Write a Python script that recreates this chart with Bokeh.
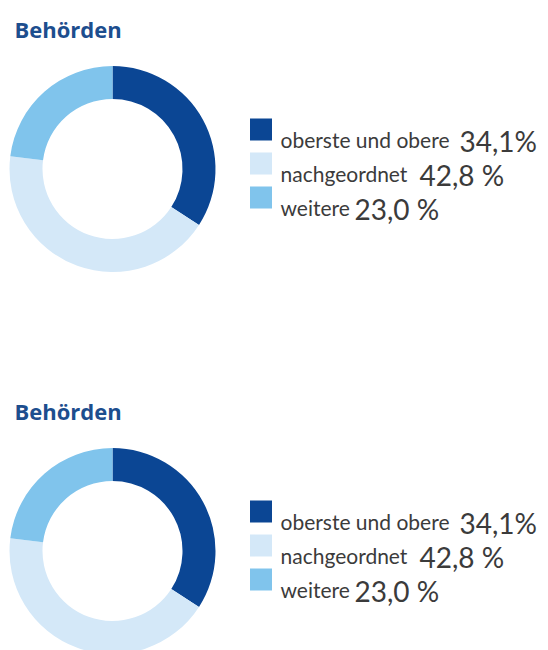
import math
from bokeh.plotting import figure
from bokeh.models import Range1d, ColumnDataSource
from bokeh.core.properties import value
from bokeh.embed import file_html
from bokeh.resources import INLINE

# ---- data ----
title_text = "Behörden"
categories = ["oberste und obere", "nachgeordnet", "weitere"]
shares = [34.1, 42.8, 23.0]
share_labels = ["34,1%", "42,8 %", "23,0 %"]
colors = ["#0b4694", "#d4e8f8", "#80c4ec"]

# ---- layout (pixels, screen coords from top-left) ----
W, H = 548, 650
panel_offsets = [0, 382]          # vertical shift of second panel
donut_cx, donut_cy = 112, 168.5
r_outer, r_inner = 103, 70
title_x, title_base = 14, 28
sq_x, sq_size = 260.5, 22
row_y = [129, 163, 197]
label_x = 280
number_x = [459, 419, 354]


def px(x):
    return x


def py(y):
    return H - y


p = figure(width=W, height=H, output_backend="svg", toolbar_location=None,
           x_range=Range1d(0, W), y_range=Range1d(0, H),
           min_border=0, min_border_left=0, min_border_right=0,
           min_border_top=0, min_border_bottom=0)
p.axis.visible = False
p.grid.visible = False
p.outline_line_color = None
p.background_fill_color = "white"
p.border_fill_color = "white"

total = sum(shares)
cum = [0.0]
for s in shares:
    cum.append(cum[-1] + s / total)
starts = [math.pi / 2 - c * 2 * math.pi for c in cum[:-1]]
ends = [math.pi / 2 - c * 2 * math.pi for c in cum[1:]]

for off in panel_offsets:
    src = ColumnDataSource(dict(start=starts, end=ends, color=colors))
    p.annular_wedge(x=px(donut_cx), y=py(donut_cy + off),
                    inner_radius=r_inner, outer_radius=r_outer,
                    start_angle="start", end_angle="end", direction="clock",
                    fill_color="color", line_color=None, source=src)

    p.text(x=[px(title_x)], y=[py(title_base + off)], text=[title_text],
           text_font=value("Open Sans"), text_font_style="bold",
           text_font_size="22px", text_color="#1d4e8e",
           text_baseline="alphabetic", text_align="left")

    ys = [py(r + off) for r in row_y]
    p.rect(x=[px(sq_x)] * 3, y=ys, width=sq_size, height=sq_size,
           fill_color=colors, line_color=None)
    p.text(x=[px(label_x)] * 3, y=[y - 10 for y in ys], text=categories,
           text_font=value("Lato"), text_font_size="21px",
           text_color="#3b3b3b", text_baseline="alphabetic", text_align="left")
    p.text(x=[px(x) for x in number_x], y=[y - 11 for y in ys], text=share_labels,
           text_font=value("Lato"), text_font_size="28px",
           text_color="#3b3b3b", text_baseline="alphabetic", text_align="left")

open("out.html", "w").write(file_html(p, INLINE))
